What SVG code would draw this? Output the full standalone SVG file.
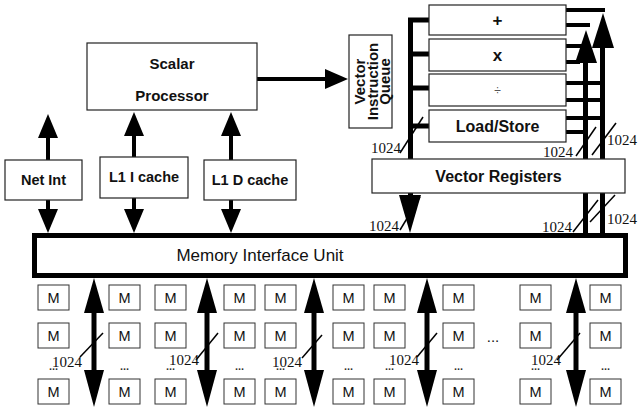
<svg xmlns="http://www.w3.org/2000/svg" width="638" height="411" viewBox="0 0 638 411">
<style>
.box{fill:#fff;stroke:#222;stroke-width:1.2}
.mbox{fill:#fff;stroke:#333;stroke-width:1}
.lbl{font-family:"Liberation Sans",Arial,sans-serif;font-weight:bold;font-size:14.5px;fill:#111;text-anchor:middle}
.ml{font-family:"Liberation Sans",Arial,sans-serif;font-size:14.5px;fill:#111;text-anchor:middle}
.num{font-family:"Liberation Serif","Times New Roman",serif;font-size:15px;fill:#111}
.bus{stroke:#000;stroke-width:5;fill:none}
.thin{stroke:#000;stroke-width:1.5;fill:none}
.head{fill:#000}
.dots{font-family:"Liberation Sans",Arial,sans-serif;font-size:11px;font-weight:bold;fill:#333;text-anchor:middle}
</style>
<defs>
<g id="memarrow">
<line x1="0" y1="310" x2="0" y2="372" class="bus"/>
<polygon class="head" points="0,278 -10,313 10,313"/>
<polygon class="head" points="0,407 -10,370 10,370"/>
</g>
<g id="mcol">
<rect class="mbox" x="0" y="285" width="31" height="25"/>
<text class="ml" x="15.5" y="303">M</text>
<rect class="mbox" x="0" y="323" width="31" height="25"/>
<text class="ml" x="15.5" y="341">M</text>
<text class="dots" x="15.5" y="370">...</text>
<rect class="mbox" x="0" y="379" width="31" height="25"/>
<text class="ml" x="15.5" y="397">M</text>
</g>
</defs>

<g id="connectors">
<!-- scalar to VIQ -->
<line x1="257" y1="79" x2="330" y2="79" class="bus" style="stroke-width:4"/>
<polygon class="head" points="348,79 325,69 325,89"/>
<!-- up arrows to scalar / down to MIU -->
<polygon class="head" points="48,114 38,138 58,138"/>
<line x1="48" y1="135" x2="48" y2="160" class="bus" style="stroke-width:4"/>
<line x1="48" y1="200" x2="48" y2="212" class="bus" style="stroke-width:4"/>
<polygon class="head" points="48,233 38,209 58,209"/>
<polygon class="head" points="134,112 124,136 144,136"/>
<line x1="134" y1="132" x2="134" y2="157" class="bus" style="stroke-width:4"/>
<line x1="134" y1="198" x2="134" y2="212" class="bus" style="stroke-width:4"/>
<polygon class="head" points="134,233 124,209 144,209"/>
<polygon class="head" points="231,112 221,136 241,136"/>
<line x1="231" y1="132" x2="231" y2="160" class="bus" style="stroke-width:4"/>
<line x1="231" y1="200" x2="231" y2="212" class="bus" style="stroke-width:4"/>
<polygon class="head" points="231,233 221,209 241,209"/>
<!-- left vector bus -->
<path class="bus" d="M429,20 H410.5 V160"/>
<line x1="410" y1="54" x2="429" y2="54" class="bus"/>
<line x1="410" y1="88" x2="429" y2="88" class="bus"/>
<line x1="410" y1="126" x2="429" y2="126" class="bus"/>
<line x1="410.5" y1="192" x2="410.5" y2="200" class="bus"/>
<polygon class="head" points="410,233 399,195 421,195"/>
<!-- unit outputs -->
<line x1="566" y1="10" x2="605" y2="10" class="bus" style="stroke-width:4"/>
<line x1="566" y1="25" x2="590" y2="25" class="bus" style="stroke-width:4"/>
<line x1="566" y1="46" x2="585" y2="46" class="bus" style="stroke-width:4"/>
<line x1="566" y1="62" x2="580" y2="62" class="bus" style="stroke-width:4"/>
<line x1="566" y1="83" x2="605" y2="83" class="bus" style="stroke-width:4"/>
<line x1="566" y1="100" x2="605" y2="100" class="bus" style="stroke-width:4"/>
<line x1="566" y1="118" x2="605" y2="118" class="bus" style="stroke-width:4"/>
<line x1="566" y1="132" x2="585" y2="132" class="bus" style="stroke-width:4"/>
<!-- right buses -->
<line x1="585.5" y1="60" x2="585.5" y2="234" class="bus"/>
<polygon class="head" points="586,30 575,63 597,63"/>
<line x1="602.5" y1="45" x2="602.5" y2="234" class="bus"/>
<polygon class="head" points="603,13 592,48 614,48"/>
<!-- memory arrows -->
<use href="#memarrow" x="94"/>
<use href="#memarrow" x="207"/>
<use href="#memarrow" x="314"/>
<use href="#memarrow" x="427"/>
<use href="#memarrow" x="576"/>
<!-- width slashes -->
<line class="thin" x1="400" y1="153" x2="423" y2="117"/>
<line class="thin" x1="400" y1="230" x2="420" y2="197"/>
<line class="thin" x1="576" y1="156" x2="596" y2="127"/>
<line class="thin" x1="592" y1="155" x2="616" y2="123"/>
<line class="thin" x1="573" y1="232" x2="598" y2="200"/>
<line class="thin" x1="590" y1="222" x2="615" y2="195"/>
<line class="thin" x1="80" y1="357" x2="103" y2="333"/>
<line class="thin" x1="196" y1="360" x2="218" y2="333"/>
<line class="thin" x1="302" y1="358" x2="322" y2="335"/>
<line class="thin" x1="417" y1="357" x2="437" y2="333"/>
<line class="thin" x1="557" y1="360" x2="580" y2="333"/>
<text class="num" x="371" y="153">1024</text>
<text class="num" x="369" y="231">1024</text>
<text class="num" x="543" y="157">1024</text>
<text class="num" x="607" y="145">1024</text>
<text class="num" x="542" y="232">1024</text>
<text class="num" x="607" y="224">1024</text>
<text class="num" x="52" y="367">1024</text>
<text class="num" x="169" y="365">1024</text>
<text class="num" x="272" y="367">1024</text>
<text class="num" x="389" y="365">1024</text>
<text class="num" x="531" y="365">1024</text>
</g>

<g id="scalar">
<rect class="box" x="87" y="43" width="170" height="67"/>
<text class="lbl" x="172" y="69" style="font-size:15px">Scalar</text>
<text class="lbl" x="172" y="101" style="font-size:15px">Processor</text>
</g>
<g id="viq">
<rect class="box" x="349" y="35" width="43" height="93"/>
<text class="lbl" transform="translate(370.5,81.5) rotate(-90)" style="font-size:15px"><tspan x="0" y="-5.5">Vector</tspan><tspan x="0" y="7.5">Instruction</tspan><tspan x="0" y="19.5">Queue</tspan></text>
</g>
<g id="netint">
<rect class="box" x="5" y="160" width="77" height="40"/>
<text class="lbl" x="43.5" y="185">Net Int</text>
</g>
<g id="l1i">
<rect class="box" x="100" y="157" width="88" height="41"/>
<text class="lbl" x="144" y="182">L1 I cache</text>
</g>
<g id="l1d">
<rect class="box" x="204" y="160" width="92" height="40"/>
<text class="lbl" x="250" y="185">L1 D cache</text>
</g>
<g id="fu-add">
<rect class="box" x="429" y="5" width="137" height="30"/>
<text class="lbl" x="497.5" y="26" style="font-size:17px">+</text>
</g>
<g id="fu-mul">
<rect class="box" x="429" y="39" width="137" height="32"/>
<text class="lbl" x="497.5" y="61" style="font-size:17px">x</text>
</g>
<g id="fu-div">
<rect class="box" x="429" y="74" width="137" height="32"/>
<text class="lbl" x="497.5" y="95" style="font-weight:normal;font-size:12px;fill:#555">÷</text>
</g>
<g id="fu-ls">
<rect class="box" x="429" y="110" width="137" height="32"/>
<text class="lbl" x="497.5" y="132" style="font-size:16px">Load/Store</text>
</g>
<g id="vregs">
<rect class="box" x="372" y="159" width="253" height="34"/>
<text class="lbl" x="498.5" y="182" style="font-size:16px">Vector Registers</text>
</g>
<g id="miu">
<rect x="34.5" y="235.5" width="591" height="40" fill="#fff" stroke="#000" stroke-width="5"/>
<text x="260" y="261" style="font-family:'Liberation Sans',Arial,sans-serif;font-size:17px;fill:#111;text-anchor:middle">Memory Interface Unit</text>
</g>
<g id="memory">
<use href="#mcol" x="38"/>
<use href="#mcol" x="109"/>
<use href="#mcol" x="155"/>
<use href="#mcol" x="224"/>
<use href="#mcol" x="265"/>
<use href="#mcol" x="333"/>
<use href="#mcol" x="374"/>
<use href="#mcol" x="443"/>
<use href="#mcol" x="520"/>
<use href="#mcol" x="590"/>
<text class="ml" x="493" y="342" style="font-size:15px">...</text>
</g>
</svg>
